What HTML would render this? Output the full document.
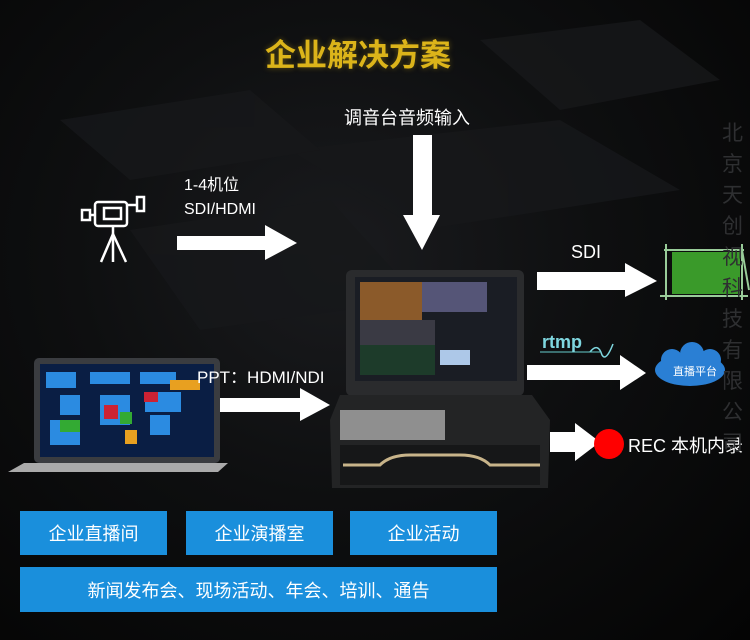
<!DOCTYPE html>
<html><head><meta charset="utf-8"><style>
body{margin:0;background:#000;}
#c{position:relative;width:750px;height:640px;overflow:hidden;background:radial-gradient(ellipse at 45% 40%,#1a1b1e 0%,#0e0f10 45%,#040404 100%);font-family:"Liberation Sans","Noto Sans CJK SC",sans-serif;color:#fff;}
.t{position:absolute;white-space:nowrap;}
.b{position:absolute;background:#1a8fdc;color:#fff;font-size:18px;display:flex;align-items:center;justify-content:center;}
</style></head><body><div id="c">
<svg width="750" height="640" style="position:absolute;left:0;top:0">
<g fill="#17181a" opacity="0.8">
<polygon points="290,150 560,120 680,190 420,230"/>
<polygon points="60,120 250,90 320,150 130,180"/>
<polygon points="130,230 330,200 420,300 200,330"/>
<polygon points="480,40 640,20 720,80 560,110"/>
</g>
<g fill="#fff">
<polygon points="177,236 265,236 265,225 297,243 265,260 265,250 177,250"/>
<polygon points="413,135 432,135 432,215 440,215 422,250 403,215 413,215"/>
<polygon points="537,272 625,272 625,263 657,281 625,297 625,290 537,290"/>
<polygon points="527,365 620,365 620,355 646,373 620,390 620,380 527,380"/>
<polygon points="550,432 575,432 575,423 600,442 575,461 575,452 550,452"/>
<polygon points="207,398 300,398 300,388 330,405 300,421 300,412 207,412"/>
</g>
<g stroke="#fff" stroke-width="2.5" fill="none">
<rect x="95" y="202" width="32" height="24" rx="3"/><rect x="104" y="208" width="17" height="11"/>
<rect x="82" y="210" width="8" height="10"/><line x1="90" y1="215" x2="95" y2="215"/>
<rect x="137" y="197" width="7" height="14"/><line x1="127" y1="205" x2="137" y2="205"/>
<line x1="113" y1="226" x2="113" y2="262"/><line x1="113" y1="234" x2="101" y2="262"/><line x1="113" y1="234" x2="126" y2="262"/>
</g>
<rect x="34" y="358" width="186" height="105" rx="5" fill="#3a3c40"/>
<rect x="40" y="364" width="174" height="93" fill="#0a1e44"/>
<g fill="#2b8be1"><rect x="46" y="372" width="30" height="16"/><rect x="90" y="372" width="40" height="12"/><rect x="140" y="372" width="36" height="12"/><rect x="60" y="395" width="20" height="20"/><rect x="100" y="395" width="30" height="30"/><rect x="145" y="392" width="36" height="20"/><rect x="50" y="420" width="30" height="25"/><rect x="150" y="415" width="20" height="20"/></g>
<g fill="#c23"><rect x="104" y="405" width="14" height="14"/><rect x="144" y="392" width="14" height="10"/></g>
<g fill="#3a3"><rect x="60" y="420" width="20" height="12"/><rect x="120" y="412" width="12" height="12"/></g>
<g fill="#e8a020"><rect x="125" y="430" width="12" height="14"/><rect x="170" y="380" width="30" height="10"/></g>
<polygon points="24,463 228,463 218,472 8,472" fill="#aaa"/>
<rect x="346" y="270" width="178" height="126" rx="6" fill="#2a2b2d"/>
<rect x="355" y="277" width="162" height="104" fill="#1a1d24"/>
<rect x="360" y="282" width="62" height="38" fill="#8b5a2a"/><rect x="422" y="282" width="65" height="30" fill="#557"/>
<rect x="360" y="320" width="75" height="25" fill="#3a3a44"/>
<rect x="360" y="345" width="75" height="30" fill="#1d3b2a"/>
<rect x="440" y="350" width="30" height="15" fill="#adc8e8"/>
<polygon points="340,395 532,395 550,420 548,488 332,488 330,420" fill="#232425"/>
<rect x="340" y="410" width="105" height="30" fill="#aaa" opacity="0.8"/>
<rect x="340" y="445" width="200" height="40" fill="#161718"/>
<path d="M343,465 L380,465 Q390,455 410,455 L460,455 Q480,455 490,465 L540,465" stroke="#c8b48a" stroke-width="3" fill="none"/>
<rect x="672" y="252" width="68" height="42" fill="#3a9a2a"/>
<g stroke="#9c9" stroke-width="2" fill="none"><line x1="666" y1="244" x2="666" y2="300"/><line x1="742" y1="244" x2="742" y2="300"/><line x1="664" y1="250" x2="744" y2="250"/><line x1="660" y1="296" x2="748" y2="296"/><line x1="742" y1="250" x2="749" y2="290"/></g>
<g fill="#2a7fd4"><ellipse cx="690" cy="370" rx="35" ry="16"/><circle cx="672" cy="360" r="11"/><circle cx="692" cy="354" r="12"/><circle cx="710" cy="360" r="11"/></g>
<circle cx="609" cy="444" r="15" fill="#f00"/>
<path d="M590,352 Q598,342 602,355 Q606,362 613,344" stroke="#7fd7e0" stroke-width="1.5" fill="none"/>
<line x1="540" y1="352" x2="600" y2="352" stroke="#6cc" stroke-width="1"/>
</svg>
<div class="t" style="left:265px;top:30px;font-size:31px;font-weight:bold;color:#dcb41a;text-shadow:0 0 6px rgba(220,180,26,.4)">企业解决方案</div>
<div class="t" style="left:344px;top:104px;font-size:18px">调音台音频输入</div>
<div class="t" style="left:184px;top:174px;font-size:16px;line-height:24px">1-4机位<br>SDI/HDMI</div>
<div class="t" style="left:197px;top:363px;font-size:17px">PPT：HDMI/NDI</div>
<div class="t" style="left:571px;top:242px;font-size:18px">SDI</div>
<div class="t" style="left:542px;top:332px;font-size:18px;font-weight:bold;color:#7fd7e0">rtmp</div>
<div class="t" style="left:673px;top:363px;font-size:11px">直播平台</div>
<div class="t" style="left:628px;top:432px;font-size:18px">REC 本机内录</div>
<div class="t" style="left:722px;top:118px;font-size:21px;line-height:31px;color:#2e2f31;white-space:normal;width:24px">北京天创视科技有限公司</div>
<div class="b" style="left:20px;top:511px;width:147px;height:44px">企业直播间</div>
<div class="b" style="left:186px;top:511px;width:147px;height:44px">企业演播室</div>
<div class="b" style="left:350px;top:511px;width:147px;height:44px">企业活动</div>
<div class="b" style="left:20px;top:567px;width:477px;height:45px">新闻发布会、现场活动、年会、培训、通告</div>
</div></body></html>
